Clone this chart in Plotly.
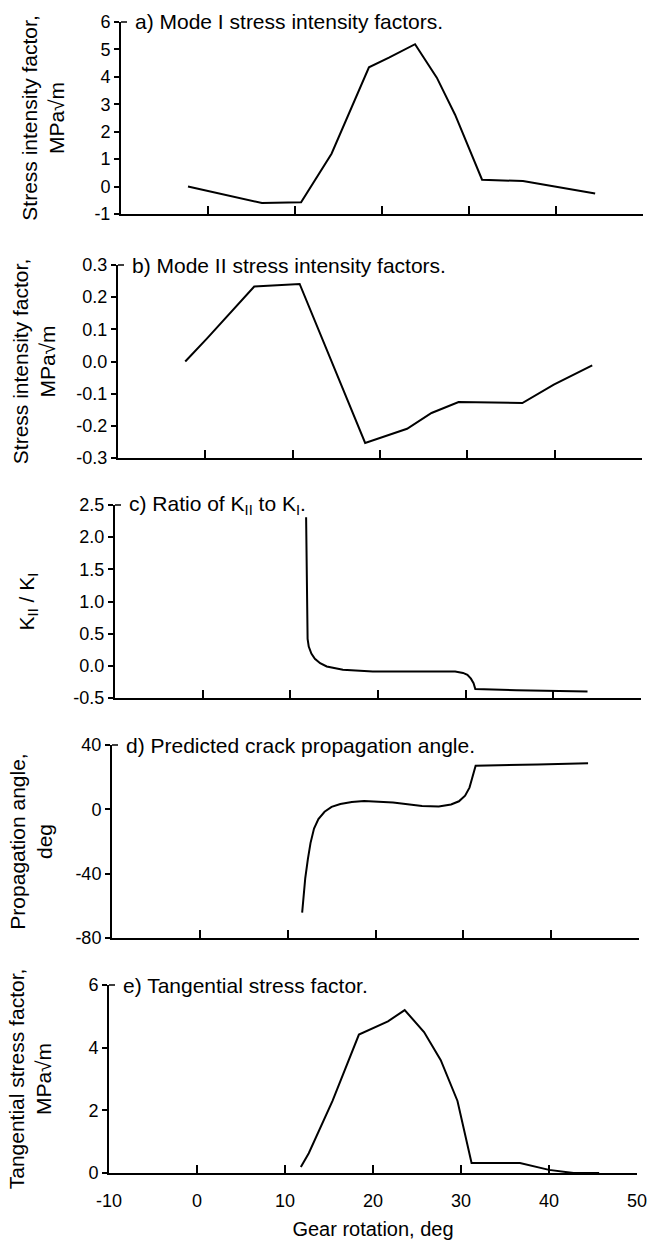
import plotly.graph_objects as go
from plotly.subplots import make_subplots

# a) Mode I stress intensity factor
rot_a = [-2.3, 6.2, 10.7, 14.2, 18.5, 20.8, 23.8, 26.3, 28.4, 31.5, 36.2, 39.7, 44.5]
k1_a = [0.0, -0.6, -0.57, 1.2, 4.35, 4.7, 5.19, 3.97, 2.62, 0.25, 0.2, 0.0, -0.25]

# b) Mode II stress intensity factor
rot_b = [-2.3, 0.2, 5.6, 10.8, 18.3, 23.1, 25.9, 29.0, 36.3, 39.9, 44.3]
k2_b = [0.0, 0.072, 0.233, 0.241, -0.253, -0.209, -0.16, -0.126, -0.129, -0.072, -0.012]

# c) ratio KII / KI
rot_c = [11.8, 11.85, 11.9, 11.97, 12.1, 12.4, 12.8, 13.4, 14.15, 16.0, 19.4, 24.1, 28.8,
         29.7, 30.2, 30.6, 30.9, 31.1, 35.8, 43.9]
ratio_c = [2.31, 1.2, 0.6, 0.42, 0.3, 0.19, 0.11, 0.04, -0.01, -0.06, -0.09, -0.09, -0.09,
           -0.11, -0.14, -0.2, -0.27, -0.36, -0.38, -0.40]

# d) predicted crack propagation angle
rot_d = [11.65, 12.0, 12.3, 12.6, 13.0, 13.5, 14.2, 15.0, 16.0, 17.3, 18.7, 22.0, 25.3, 27.2,
         28.6, 29.5, 30.2, 30.7, 31.0, 31.4, 38.5, 44.2]
angle_d = [-64.2, -42.9, -31.0, -21.0, -12.0, -6.0, -1.5, 1.5, 3.3, 4.6, 5.2, 4.3, 2.1, 1.8,
           3.0, 5.0, 8.5, 13.5, 19.3, 27.1, 27.9, 28.6]

# e) tangential stress factor
rot_e = [11.8, 12.7, 15.4, 18.4, 21.7, 23.6, 25.8, 27.7, 29.6, 31.2, 36.7, 40.0, 42.8, 45.7]
kt_e = [0.19, 0.63, 2.3, 4.42, 4.84, 5.2, 4.5, 3.6, 2.3, 0.32, 0.32, 0.1, 0.0, 0.0]

panel_titles = [
    "a) Mode I stress intensity factors.",
    "b) Mode II stress intensity factors.",
    "c) Ratio of K<sub>II</sub> to K<sub>I</sub>.",
    "d) Predicted crack propagation angle.",
    "e) Tangential stress factor.",
]
y_titles = [
    "Stress intensity factor,<br>MPa\u221am",
    "Stress intensity factor,<br>MPa\u221am",
    "K<sub>II</sub> / K<sub>I</sub>",
    "Propagation angle,<br>deg",
    "Tangential stress factor,<br>MPa\u221am",
]
y_ranges = [[-1, 6], [-0.3, 0.3], [-0.5, 2.5], [-80, 40], [0, 6]]
y_tickvals = [
    [-1, 0, 1, 2, 3, 4, 5, 6],
    [-0.3, -0.2, -0.1, 0.0, 0.1, 0.2, 0.3],
    [-0.5, 0.0, 0.5, 1.0, 1.5, 2.0, 2.5],
    [-80, -40, 0, 40],
    [0, 2, 4, 6],
]
y_ticktext = [
    ["-1", "0", "1", "2", "3", "4", "5", "6"],
    ["-0.3", "-0.2", "-0.1", "0.0", "0.1", "0.2", "0.3"],
    ["-0.5", "0.0", "0.5", "1.0", "1.5", "2.0", "2.5"],
    ["-80", "-40", "0", "40"],
    ["0", "2", "4", "6"],
]
x_tickvals = [-10, 0, 10, 20, 30, 40, 50]
x_ticktext = ["-10", "0", "10", "20", "30", "40", "50"]

series = [(rot_a, k1_a), (rot_b, k2_b), (rot_c, ratio_c), (rot_d, angle_d), (rot_e, kt_e)]

W, H = 648, 1245
# panel boxes in pixels (the scanned original is slightly skewed)
panel_y = [(22, 214), (265, 458), (505, 698), (745, 938), (985, 1173)]
panel_x = [(121, 643), (118, 642), (115, 641), (112, 639), (109, 637)]
title_standoff = [24, 15, 33, 17, 31]

FONT = "Liberation Sans, Arial, sans-serif"

fig = make_subplots(rows=5, cols=1)

for i, (xs, ys) in enumerate(series):
    r = i + 1
    fig.add_trace(
        go.Scatter(x=xs, y=ys, mode="lines", line=dict(color="black", width=2),
                   showlegend=False),
        row=r, col=1,
    )
    top, bot = panel_y[i]
    left, right = panel_x[i]
    y0, y1 = 1 - bot / H, 1 - top / H
    x0, x1 = left / W, right / W
    fig.update_yaxes(
        domain=[y0, y1],
        range=y_ranges[i],
        tickvals=y_tickvals[i],
        ticktext=y_ticktext[i],
        ticks="outside", ticklen=5, tickwidth=1.5, tickcolor="black",
        showline=True, linecolor="black", linewidth=2,
        showgrid=False, zeroline=False, automargin=False,
        tickfont=dict(size=18, color="black"),
        title=dict(text=y_titles[i], font=dict(size=21, color="black"),
                   standoff=title_standoff[i]),
        row=r, col=1,
    )
    fig.update_xaxes(
        domain=[x0, x1],
        range=[-10, 50],
        tickvals=x_tickvals,
        ticktext=x_ticktext,
        showticklabels=(r == 5),
        ticks="inside", ticklen=8, tickwidth=1.5, tickcolor="black",
        showline=True, linecolor="black", linewidth=2,
        showgrid=False, zeroline=False, automargin=False,
        tickfont=dict(size=18, color="black"),
        ticklabelstandoff=10,
        row=r, col=1,
    )
    # small stroke at the top of the y axis
    fig.add_shape(type="line", xref="paper", yref="paper",
                  x0=x0, x1=x0 + 6 / W, y0=y1, y1=y1,
                  line=dict(color="black", width=1.5))
    fig.add_annotation(
        text=panel_titles[i], xref="paper", yref="paper",
        x=x0 + 12 / W, y=y1,
        xanchor="left", yanchor="middle", showarrow=False,
        font=dict(size=21, color="black"),
    )

fig.update_xaxes(title=dict(text="Gear rotation, deg", font=dict(size=20, color="black"),
                            standoff=12), row=5, col=1)

fig.update_layout(
    width=W, height=H,
    margin=dict(l=0, r=0, t=0, b=0),
    plot_bgcolor="white", paper_bgcolor="white",
    font=dict(family=FONT, color="black"),
)

# drop the default page margin so the figure fills the window exactly
fig.write_html("out.html", config={"displayModeBar": False},
               post_script="document.body.style.margin='0px';")
